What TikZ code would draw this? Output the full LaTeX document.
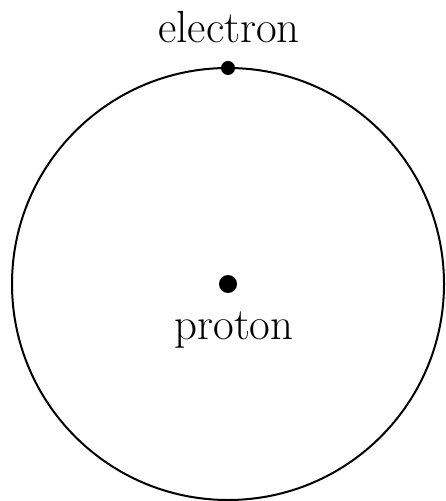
\documentclass[tikz,border=0pt]{standalone}
\usetikzlibrary{positioning}
\tikzset{
  orbit/.style={draw=black, line width=1pt},
  particle/.style={circle, fill=black, inner sep=0pt},
  partlab/.style={font=\fontsize{22.5}{27}\selectfont, inner sep=0pt},
}

\begin{document}
\begin{tikzpicture}[x=0.5pt, y=-0.5pt]
\useasboundingbox (0,0) rectangle (445,501);
% --- orbit ---
\coordinate (nucleus) at (228,284);
\draw[orbit] (nucleus) circle[radius=108pt];
% --- particles ---
\node[particle, minimum size=7pt] (elec) at (228,68) {};
\node[particle, minimum size=9pt] (prot) at (nucleus) {};
% --- labels ---
\node[partlab, anchor=base] (eleclab) at (229,43) {electron};
\node[partlab, anchor=base] (protlab) at (234,339) {proton};
\end{tikzpicture}
\end{document}
